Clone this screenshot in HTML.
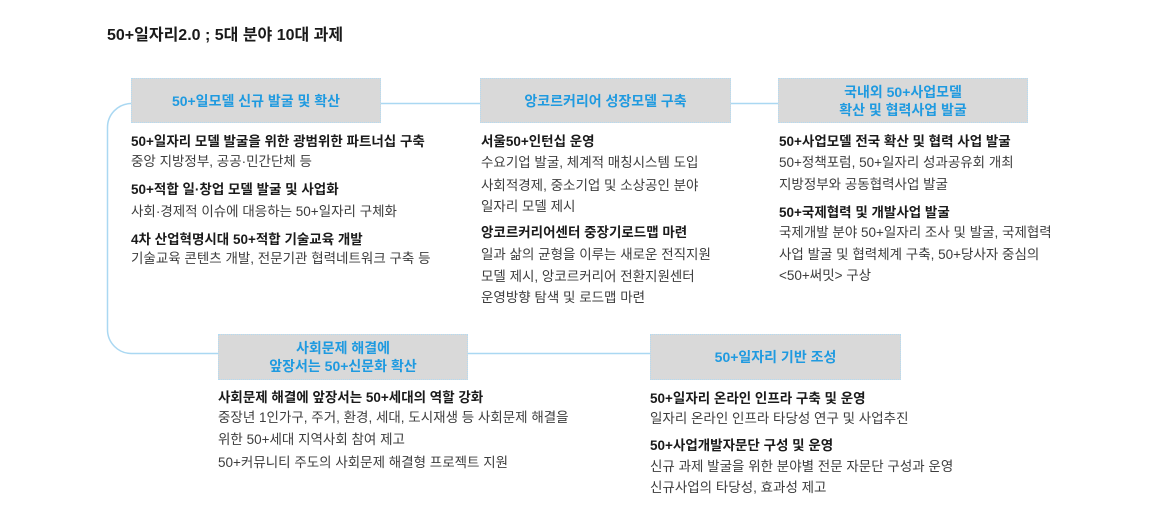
<!DOCTYPE html>
<html>
<head>
<meta charset="utf-8">
<style>
  html,body{margin:0;padding:0;}
  body{width:1170px;height:526px;position:relative;background:#ffffff;overflow:hidden;
       font-family:"Liberation Sans","Noto Sans CJK KR",sans-serif;}
  .t{position:absolute;white-space:nowrap;line-height:18px;font-size:13.5px;}
  .b{font-weight:bold;color:#1a1a1a;}
  .r{color:#3c3c3c;}
  .box{position:absolute;box-sizing:border-box;background:#d9d9d9;border:1px dotted #b3dbf3;
       display:flex;align-items:center;justify-content:center;text-align:center;
       color:#1f9ae0;font-weight:bold;font-size:14px;line-height:18px;}
  svg{position:absolute;left:0;top:0;}
</style>
</head>
<body>
<svg width="1170" height="526" viewBox="0 0 1170 526">
  <g fill="none" stroke="#aad8f2" stroke-width="1.5">
    <path d="M131 103.5 A24 24 0 0 0 107.5 127.5 L107.5 329.5 A24 24 0 0 0 131.5 353.5 L218 353.5"/>
    <path d="M381 103.5 H480"/>
    <path d="M731 103.5 H778"/>
    <path d="M468 353.5 H650"/>
  </g>
</svg>

<div class="t b" style="left:107px;top:27px;font-size:16px;">50+일자리2.0 ; 5대 분야 10대 과제</div>

<div class="box" style="left:131px;top:78px;width:250px;height:45px;">50+일모델 신규 발굴 및 확산</div>
<div class="box" style="left:480px;top:78px;width:251px;height:45px;">앙코르커리어 성장모델 구축</div>
<div class="box" style="left:778px;top:78px;width:250px;height:45px;">국내외 50+사업모델<br>확산 및 협력사업 발굴</div>
<div class="box" style="left:218px;top:334px;width:250px;height:46px;">사회문제 해결에<br>앞장서는 50+신문화 확산</div>
<div class="box" style="left:650px;top:334px;width:251px;height:46px;">50+일자리 기반 조성</div>

<!-- Column 1 -->
<div class="t b" style="left:131px;top:133px;">50+일자리 모델 발굴을 위한 광범위한 파트너십 구축</div>
<div class="t r" style="left:131px;top:153px;">중앙 지방정부, 공공·민간단체 등</div>
<div class="t b" style="left:131px;top:181px;">50+적합 일·창업 모델 발굴 및 사업화</div>
<div class="t r" style="left:131px;top:203px;">사회·경제적 이슈에 대응하는 50+일자리 구체화</div>
<div class="t b" style="left:131px;top:231px;">4차 산업혁명시대 50+적합 기술교육 개발</div>
<div class="t r" style="left:131px;top:250px;">기술교육 콘텐츠 개발, 전문기관 협력네트워크 구축 등</div>

<!-- Column 2 -->
<div class="t b" style="left:481px;top:133px;">서울50+인턴십 운영</div>
<div class="t r" style="left:481px;top:154px;">수요기업 발굴, 체계적 매칭시스템 도입</div>
<div class="t r" style="left:481px;top:177px;">사회적경제, 중소기업 및 소상공인 분야</div>
<div class="t r" style="left:481px;top:198px;">일자리 모델 제시</div>
<div class="t b" style="left:481px;top:224px;">앙코르커리어센터 중장기로드맵 마련</div>
<div class="t r" style="left:481px;top:246px;">일과 삶의 균형을 이루는 새로운 전직지원</div>
<div class="t r" style="left:481px;top:268px;">모델 제시, 앙코르커리어 전환지원센터</div>
<div class="t r" style="left:481px;top:289px;">운영방향 탐색 및 로드맵 마련</div>

<!-- Column 3 -->
<div class="t b" style="left:779px;top:133px;">50+사업모델 전국 확산 및 협력 사업 발굴</div>
<div class="t r" style="left:779px;top:154px;">50+정책포럼, 50+일자리 성과공유회 개최</div>
<div class="t r" style="left:779px;top:176px;">지방정부와 공동협력사업 발굴</div>
<div class="t b" style="left:779px;top:204px;">50+국제협력 및 개발사업 발굴</div>
<div class="t r" style="left:779px;top:224px;">국제개발 분야 50+일자리 조사 및 발굴, 국제협력</div>
<div class="t r" style="left:779px;top:246px;">사업 발굴 및 협력체계 구축, 50+당사자 중심의</div>
<div class="t r" style="left:779px;top:267px;">&lt;50+써밋&gt; 구상</div>

<!-- Column 4 -->
<div class="t b" style="left:218px;top:389px;">사회문제 해결에 앞장서는 50+세대의 역할 강화</div>
<div class="t r" style="left:218px;top:409px;">중장년 1인가구, 주거, 환경, 세대, 도시재생 등 사회문제 해결을</div>
<div class="t r" style="left:218px;top:431px;">위한 50+세대 지역사회 참여 제고</div>
<div class="t r" style="left:218px;top:454px;">50+커뮤니티 주도의 사회문제 해결형 프로젝트 지원</div>

<!-- Column 5 -->
<div class="t b" style="left:650px;top:390px;">50+일자리 온라인 인프라 구축 및 운영</div>
<div class="t r" style="left:650px;top:410px;">일자리 온라인 인프라 타당성 연구 및 사업추진</div>
<div class="t b" style="left:650px;top:437px;">50+사업개발자문단 구성 및 운영</div>
<div class="t r" style="left:650px;top:458px;">신규 과제 발굴을 위한 분야별 전문 자문단 구성과 운영</div>
<div class="t r" style="left:650px;top:479px;">신규사업의 타당성, 효과성 제고</div>
</body>
</html>
